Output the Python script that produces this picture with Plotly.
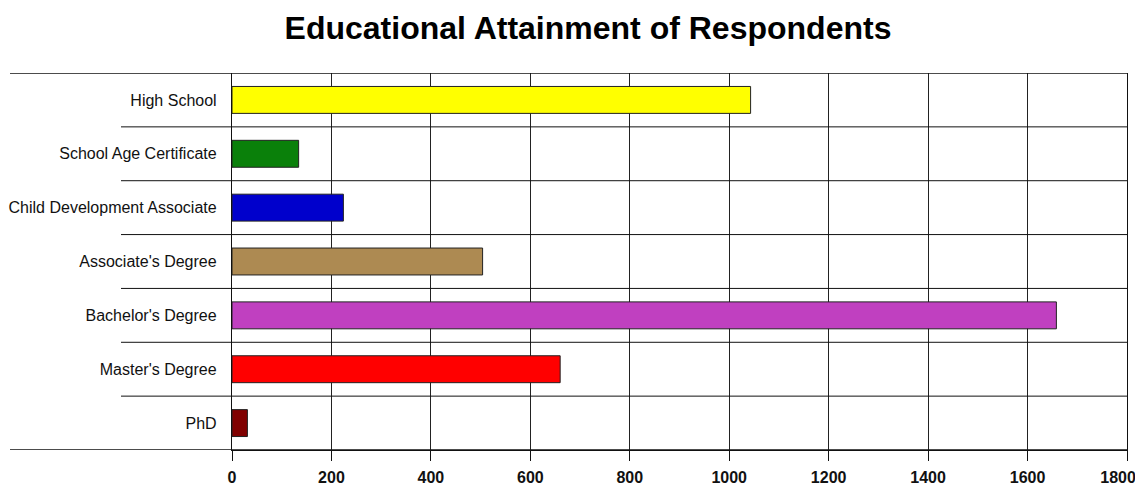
import plotly.graph_objects as go

# data
categories = [
    "High School",
    "School Age Certificate",
    "Child Development Associate",
    "Associate's Degree",
    "Bachelor's Degree",
    "Master's Degree",
    "PhD",
]
respondents = [1043, 134, 224, 504, 1658, 660, 31]
bar_colors = ["#FFFF00", "#0A800A", "#0000CC", "#AD8A52", "#C040C0", "#FF0000", "#800000"]
x_ticks = [0, 200, 400, 600, 800, 1000, 1200, 1400, 1600, 1800]

# page body adds an 8px margin, so the figure is sized/shifted to compensate
OFF = 8
W, H = 1143 - OFF, 487 - OFF
M_L, M_R, M_T, M_B = 232 - OFF, 16, 73 - OFF, 37
plot_w = W - M_L - M_R

fig = go.Figure(
    go.Bar(
        x=respondents,
        y=categories,
        orientation="h",
        width=0.5,
        marker=dict(color=bar_colors, line=dict(color="#222222", width=1)),
        showlegend=False,
    )
)

# horizontal rules: long ones at top/bottom, shorter category separators
shapes = []
n = len(categories)
for i in range(n + 1):
    edge = i in (0, n)
    x0 = (10 - 232) / plot_w if edge else (121 - 232) / plot_w
    shapes.append(
        dict(
            type="line", xref="paper", yref="y",
            x0=x0, x1=1, y0=i - 0.5, y1=i - 0.5,
            line=dict(color="#111111", width=1.3 if edge else 1),
            layer="above",
        )
    )

# last tick label nudged left (padding) so it stays inside the page
tick_text = [f"<b>{v}</b>" for v in x_ticks]
tick_text[-1] = tick_text[-1] + "\u00a0" * 4

fig.update_layout(
    width=W,
    height=H,
    margin=dict(l=M_L, r=M_R, t=M_T, b=M_B, autoexpand=False),
    paper_bgcolor="white",
    plot_bgcolor="white",
    font=dict(family="Liberation Sans, Arial, sans-serif", color="#111111"),
    title=dict(
        text="<b>Educational Attainment of Respondents</b>",
        x=(588 - OFF) / W, xref="container", xanchor="center",
        y=1 - (28 - OFF) / H, yref="container", yanchor="middle",
        font=dict(size=32, color="#000000"),
    ),
    shapes=shapes,
    xaxis=dict(
        range=[0, 1800],
        tickvals=x_ticks,
        ticktext=tick_text,
        tickfont=dict(size=16, color="#111111"),
        ticks="outside",
        ticklen=10,
        tickcolor="#111111",
        ticklabelstandoff=3,
        ticklabeloverflow="allow",
        automargin=False,
        showgrid=True,
        gridcolor="#222222",
        gridwidth=1,
        zeroline=False,
        showline=True,
        linecolor="#111111",
        fixedrange=True,
    ),
    yaxis=dict(
        categoryorder="array",
        categoryarray=categories,
        range=[n - 0.5, -0.5],
        tickfont=dict(size=16, color="#111111"),
        ticks="",
        ticklabelstandoff=11,
        automargin=False,
        showgrid=False,
        zeroline=False,
        showline=True,
        mirror=True,
        linecolor="#111111",
        linewidth=1.3,
        fixedrange=True,
    ),
)

fig.write_html("out.html")
